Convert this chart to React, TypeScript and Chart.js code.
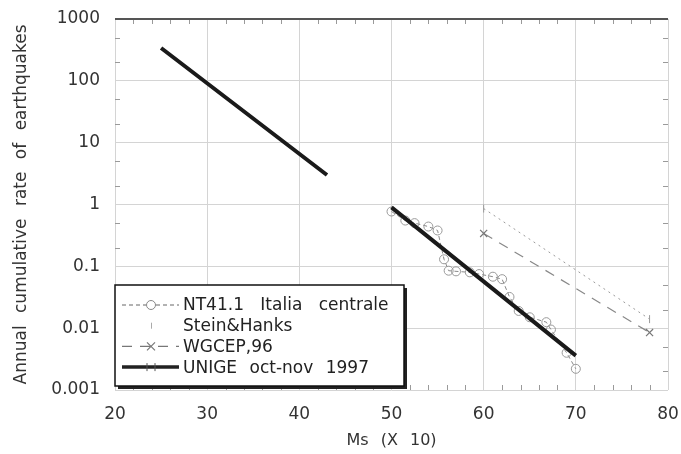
import React, { useEffect, useRef } from 'react';
import { Chart, registerables } from 'chart.js';

Chart.register(...registerables);

// ---- data ----
const xMin = 20;
const xMax = 80;
const xStep = 10;
const xMinorStep = 2;
const yTickValues = [0.001, 0.01, 0.1, 1, 10, 100, 1000];
const yTickLabels = ['0.001', '0.01', '0.1', '1', '10', '100', '1000'];
const yMinorMultipliers = [2, 5];

const ntMs = [50, 51.5, 52.5, 54, 55, 55.7, 56.2, 57, 58.5, 59.5, 61, 62, 62.8, 63.8, 65, 66.8, 67.3, 69, 70];
const ntRate = [0.77, 0.55, 0.5, 0.44, 0.38, 0.13, 0.085, 0.083, 0.08, 0.075, 0.068, 0.062, 0.032, 0.019, 0.015, 0.0125, 0.0095, 0.004, 0.0022];

const shMs = [60, 78];
const shRate = [0.86, 0.014];

const wgMs = [60, 78];
const wgRate = [0.34, 0.0085];

const unMs = [25, 43, 46, 50, 70];
const unRate = [340, 3.0, null, 0.9, 0.0036];

const legendLabels = ['NT41.1 Italia centrale', 'Stein&Hanks', 'WGCEP,96', 'UNIGE oct-nov 1997'];
const xTitle = 'Ms (X 10)';
const yTitle = 'Annual cumulative rate of earthquakes';

const FONT = 'DejaVu Sans';
const TEXT = '#333';

const pts = (xs: number[], ys: (number | null)[]) => xs.map((x, i) => ({ x, y: ys[i] }));

const decoPlugin = {
  id: 'deco',
  beforeDraw(chart: any) {
    (chart.ctx as any).wordSpacing = '7px';
  },
  beforeDatasetsDraw(chart: any) {
    const { ctx, chartArea: a, scales } = chart;
    const x = scales.x;
    const y = scales.y;
    ctx.save();
    ctx.strokeStyle = '#9a9a9a';
    ctx.lineWidth = 1;
    ctx.beginPath();
    for (let v = xMin + xMinorStep; v < xMax; v += xMinorStep) {
      if (v % xStep === 0) continue;
      const px = Math.round(x.getPixelForValue(v)) + 0.5;
      ctx.moveTo(px, a.bottom);
      ctx.lineTo(px, a.bottom - 5);
      ctx.moveTo(px, a.top);
      ctx.lineTo(px, a.top + 5);
    }
    for (let i = 0; i < yTickValues.length - 1; i++) {
      for (const m of yMinorMultipliers) {
        const py = Math.round(y.getPixelForValue(yTickValues[i] * m)) + 0.5;
        ctx.moveTo(a.left, py);
        ctx.lineTo(a.left + 5, py);
        ctx.moveTo(a.right, py);
        ctx.lineTo(a.right - 5, py);
      }
    }
    ctx.stroke();
    ctx.strokeStyle = '#555';
    ctx.lineWidth = 2;
    ctx.beginPath();
    ctx.moveTo(a.left, a.top);
    ctx.lineTo(a.right, a.top);
    ctx.stroke();
    ctx.restore();
  },
  afterDraw(chart: any) {
    const { ctx, chartArea: a } = chart;
    const L = a.left;
    const T = a.bottom - 105;
    const W = 289;
    const H = 101;
    ctx.save();
    ctx.fillStyle = '#222';
    ctx.fillRect(L + 3, T + 3, W, H);
    ctx.fillStyle = '#fff';
    ctx.fillRect(L, T, W, H);
    ctx.strokeStyle = '#111';
    ctx.lineWidth = 1.5;
    ctx.strokeRect(L, T, W, H);

    const x0 = L + 7;
    const x1 = L + 64;
    const cx = L + 36;
    legendLabels.forEach((label, i) => {
      const ry = T + 20 + i * 20.7;
      ctx.save();
      if (i === 0) {
        ctx.strokeStyle = '#666';
        ctx.lineWidth = 1;
        ctx.setLineDash([4, 3]);
        ctx.beginPath();
        ctx.moveTo(x0, ry); ctx.lineTo(cx - 5, ry);
        ctx.moveTo(cx + 5, ry); ctx.lineTo(x1, ry);
        ctx.stroke();
        ctx.setLineDash([]);
        ctx.strokeStyle = '#888';
        ctx.beginPath();
        ctx.arc(cx, ry, 4.5, 0, Math.PI * 2);
        ctx.stroke();
      } else if (i === 1) {
        ctx.strokeStyle = '#aaa';
        ctx.lineWidth = 1;
        ctx.beginPath();
        ctx.moveTo(cx + 0.5, ry - 3); ctx.lineTo(cx + 0.5, ry + 3);
        ctx.stroke();
      } else if (i === 2) {
        ctx.strokeStyle = '#777';
        ctx.lineWidth = 1.2;
        ctx.setLineDash([10, 8]);
        ctx.beginPath();
        ctx.moveTo(x0, ry); ctx.lineTo(x1, ry);
        ctx.stroke();
        ctx.setLineDash([]);
        ctx.beginPath();
        ctx.moveTo(cx - 4, ry - 4); ctx.lineTo(cx + 4, ry + 4);
        ctx.moveTo(cx - 4, ry + 4); ctx.lineTo(cx + 4, ry - 4);
        ctx.stroke();
      } else {
        ctx.strokeStyle = '#222';
        ctx.lineWidth = 3.5;
        ctx.beginPath();
        ctx.moveTo(x0, ry); ctx.lineTo(x1, ry);
        ctx.stroke();
        ctx.lineWidth = 1;
        ctx.strokeStyle = '#555';
        ctx.beginPath();
        ctx.moveTo(cx - 4, ry - 4); ctx.lineTo(cx - 4, ry + 4);
        ctx.moveTo(cx + 4, ry - 4); ctx.lineTo(cx + 4, ry + 4);
        ctx.stroke();
      }
      ctx.restore();
      (ctx as any).wordSpacing = i === 0 ? '11px' : '7px';
      ctx.fillStyle = '#222';
      ctx.font = `17px "${FONT}"`;
      ctx.textBaseline = 'middle';
      ctx.textAlign = 'left';
      ctx.fillText(label, L + 68, ry + 1);
    });
    ctx.restore();
  },
};

export default function App() {
  const ref = useRef<HTMLCanvasElement | null>(null);
  useEffect(() => {
    if (!ref.current) return;
    const chart = new Chart(ref.current, {
      type: 'scatter',
      data: {
        datasets: [
          {
            label: legendLabels[3],
            data: pts(unMs, unRate),
            showLine: true,
            spanGaps: false,
            borderColor: '#1a1a1a',
            borderWidth: 4,
            pointRadius: 0,
            order: 0,
          },
          {
            label: legendLabels[0],
            data: pts(ntMs, ntRate),
            showLine: true,
            borderColor: '#888',
            borderWidth: 1,
            borderDash: [4, 3],
            pointStyle: 'circle',
            pointRadius: 4.5,
            pointBorderColor: '#999',
            pointBackgroundColor: 'rgba(0,0,0,0)',
            pointBorderWidth: 1,
            order: 1,
          },
          {
            label: legendLabels[1],
            data: pts(shMs, shRate),
            showLine: true,
            borderColor: '#999',
            borderWidth: 1,
            borderDash: [2, 4],
            pointStyle: 'line',
            rotation: 90,
            pointRadius: 4,
            pointBorderColor: '#999',
            order: 2,
          },
          {
            label: legendLabels[2],
            data: pts(wgMs, wgRate),
            showLine: true,
            borderColor: '#888',
            borderWidth: 1.2,
            borderDash: [10, 8],
            pointStyle: 'crossRot',
            pointRadius: 5,
            pointBorderColor: '#777',
            pointBorderWidth: 1.2,
            order: 3,
          },
        ],
      },
      options: {
        responsive: false,
        maintainAspectRatio: false,
        animation: false,
        layout: { padding: { top: 19, right: 13, left: 0, bottom: 0 } },
        plugins: { legend: { display: false }, tooltip: { enabled: false } },
        scales: {
          x: {
            type: 'linear',
            min: xMin,
            max: xMax,
            afterFit: (s: any) => { s.height = 64; s.paddingLeft = 0; s.paddingRight = 0; },
            ticks: { stepSize: xStep, color: TEXT, padding: 14, font: { family: FONT, size: 17 } },
            grid: { color: '#d4d4d4', drawTicks: false },
            border: { display: false },
            title: { display: true, text: xTitle, color: TEXT, font: { family: FONT, size: 16 }, padding: { top: 0, bottom: 4 } },
          },
          y: {
            type: 'logarithmic',
            min: yTickValues[0],
            max: yTickValues[yTickValues.length - 1],
            afterFit: (s: any) => { s.width = 115; s.paddingTop = 0; s.paddingBottom = 0; },
            afterBuildTicks: (s: any) => { s.ticks = yTickValues.map((v) => ({ value: v, major: true })); },
            ticks: {
              color: TEXT,
              padding: 15,
              autoSkip: false,
              font: { family: FONT, size: 17 },
              callback: (v: any) => {
                const i = yTickValues.findIndex((t) => Math.abs(t - v) / t < 1e-6);
                return i >= 0 ? yTickLabels[i] : '';
              },
            },
            grid: { color: '#d4d4d4', drawTicks: false },
            border: { display: false },
            title: { display: true, text: yTitle, color: TEXT, font: { family: FONT, size: 17 }, padding: { top: 11, bottom: 0 } },
          },
        },
      },
      plugins: [decoPlugin],
    } as any);
    return () => chart.destroy();
  }, []);
  return (
    <div style={{ position: 'fixed', left: 0, top: 0, width: 681, height: 454, background: '#fff' }}>
      <canvas ref={ref} width={681} height={454} />
    </div>
  );
}
